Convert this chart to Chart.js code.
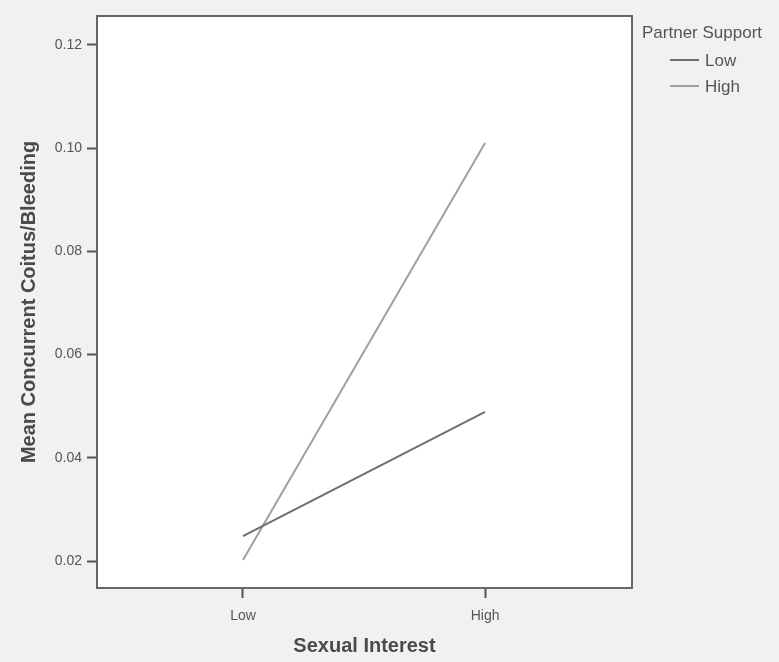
<!DOCTYPE html>
<html><head><meta charset="utf-8">
<script src="https://cdn.jsdelivr.net/npm/chart.js@4"></script>
<style>html,body{margin:0;padding:0;background:#f1f1ef;}#c{display:block;}</style>
</head><body>
<canvas id="c" width="779" height="662"></canvas>
<script>
const categories = ['Low', 'High'];
const seriesNames = ['Low', 'High'];
const lowSupport = [0.0248, 0.0489];
const highSupport = [0.0202, 0.1010];
const yTicks = [0.02, 0.04, 0.06, 0.08, 0.10, 0.12];
const legendTitle = 'Partner Support';
const xTitle = 'Sexual Interest';
const yTitle = 'Mean Concurrent Coitus/Bleeding';

const FONT = '"Liberation Sans", Arial, sans-serif';

const bgPlugin = {
  id: 'bg',
  beforeDraw(chart) {
    const {ctx, chartArea: a} = chart;
    ctx.save();
    ctx.fillStyle = '#f1f1ef';
    ctx.fillRect(0, 0, chart.width, chart.height);
    ctx.fillStyle = '#ffffff';
    ctx.fillRect(a.left, a.top, a.right - a.left, a.bottom - a.top);
    ctx.restore();
  },
  afterDraw(chart) {
    const {ctx, chartArea: a} = chart;
    ctx.save();
    ctx.strokeStyle = '#666';
    ctx.lineWidth = 2;
    ctx.strokeRect(a.left, a.top, a.right - a.left, a.bottom - a.top);
    // legend
    ctx.fillStyle = '#555';
    ctx.font = '17px ' + FONT;
    ctx.textBaseline = 'middle';
    ctx.textAlign = 'left';
    ctx.fillText(legendTitle, 642, 33);
    chart.data.datasets.forEach((ds, i) => {
      const y = 60 + i * 26;
      ctx.strokeStyle = ds.borderColor;
      ctx.lineWidth = 2;
      ctx.beginPath();
      ctx.moveTo(670, y);
      ctx.lineTo(699, y);
      ctx.stroke();
      ctx.fillStyle = '#555';
      ctx.font = '17px ' + FONT;
      ctx.fillText(ds.label, 705, y + 1);
    });
    ctx.restore();
  }
};

new Chart(document.getElementById('c'), {
  type: 'line',
  data: {
    datasets: [
      { label: seriesNames[0], data: lowSupport.map((v, i) => ({x: i, y: v})), borderColor: '#6e6e6e', borderWidth: 2, pointRadius: 0, tension: 0 },
      { label: seriesNames[1], data: highSupport.map((v, i) => ({x: i, y: v})), borderColor: '#a0a0a0', borderWidth: 2, pointRadius: 0, tension: 0 }
    ]
  },
  options: {
    responsive: false,
    animation: false,
    layout: { padding: { top: 16, right: 147, left: 0, bottom: 0 } },
    plugins: { legend: { display: false }, tooltip: { enabled: false } },
    scales: {
      x: {
        type: 'linear', min: -0.603, max: 1.607,
        afterBuildTicks(s) { s.ticks = categories.map((c, i) => ({value: i})); },
        afterFit(s) { s.height = 74; },
        ticks: { callback: (v) => categories[v], color: '#555', font: { family: FONT, size: 14 }, padding: 10, maxRotation: 0 },
        grid: { drawOnChartArea: false, tickLength: 10, color: '#555', tickWidth: 2 },
        border: { display: false },
        title: { display: true, text: xTitle, color: '#4a4a4a', font: { family: FONT, size: 20, weight: 'bold' }, padding: { top: 3 } }
      },
      y: {
        min: 0.01477, max: 0.1256,
        afterBuildTicks(s) { s.ticks = yTicks.map(v => ({value: v})); },
        afterFit(s) { s.width = 97; },
        ticks: { callback: (v) => v.toFixed(2), color: '#555', font: { family: FONT, size: 14 }, padding: 5 },
        grid: { drawOnChartArea: false, tickLength: 10, color: '#555', tickWidth: 2 },
        border: { display: false },
        title: { display: true, text: yTitle, color: '#4a4a4a', font: { family: FONT, size: 20, weight: 'bold' }, padding: { top: 17, bottom: 4 } }
      }
    }
  },
  plugins: [bgPlugin]
});
</script>
</body></html>
